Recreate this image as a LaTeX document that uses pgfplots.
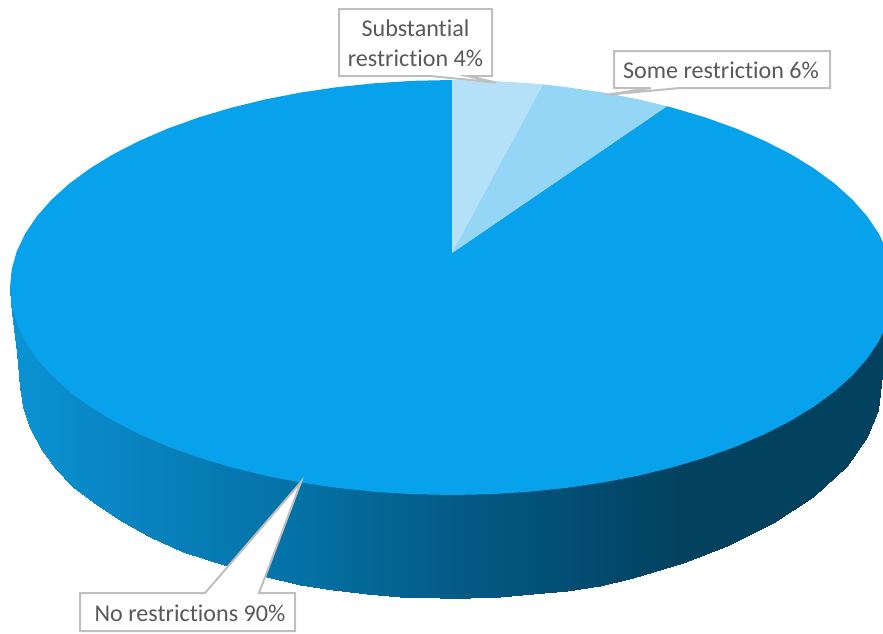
\documentclass[border=0pt]{standalone}
\usepackage{pgfplots}
\pgfplotsset{compat=1.18}
\usepackage{fontspec}
\setmainfont[Ligatures=NoCommon]{Carlito}
\definecolor{mainblue}{RGB}{7,162,235}
\definecolor{lightone}{RGB}{181,225,248}
\definecolor{lighttwo}{RGB}{149,214,247}
\definecolor{boxline}{RGB}{191,191,191}
\definecolor{labeltext}{RGB}{89,89,89}
\tikzset{lab/.style={font=\fontsize{24.1}{30}\selectfont, text=labeltext, align=center, inner sep=0pt}}
\begin{document}
\begin{tikzpicture}
\begin{axis}[
    scale only axis,
    width=883pt,
    height=633pt,
    xmin=0, xmax=883,
    ymin=0, ymax=633,
    y dir=reverse,
    hide axis,
    colormap={wall}{rgb255(0pt)=(11,148,214); rgb255(100pt)=(9,135,197); rgb255(300pt)=(4,113,165); rgb255(440pt)=(4,93,137); rgb255(600pt)=(3,74,110); rgb255(680pt)=(2,66,95); rgb255(880pt)=(2,66,95)},
    point meta min=0, point meta max=880,
    ]

% side wall
\addplot[surf, shader=interp, mesh/rows=2, point meta=x] table[row sep=\\] {
x y\\
10 290\\ 12 290\\ 17 290\\ 20 290\\ 23 290\\ 30 290\\ 42 290\\ 55 290\\ 73 290\\ 97 290\\ 123 290\\ 150 290\\ 183 290\\ 227 290\\ 267 290\\ 300 290\\ 333 290\\ 367 290\\ 400 290\\ 440 290\\ 470 290\\ 500 290\\ 533 290\\ 567 290\\ 600 290\\ 633 290\\ 683 290\\ 727 290\\ 773 290\\ 813 290\\ 847 290\\ 867 290\\ 878 290\\ 883 290\\
10 290\\ 12 313\\ 17 353\\ 20 387\\ 23 407\\ 30 428\\ 42 450\\ 55 468\\ 73 487\\ 97 505\\ 123 522\\ 150 537\\ 183 552\\ 227 566\\ 267 577\\ 300 585\\ 333 590\\ 367 594\\ 400 597\\ 440 598\\ 470 598\\ 500 597\\ 533 594\\ 567 591\\ 600 586\\ 633 578\\ 683 563\\ 727 546\\ 773 523\\ 813 497\\ 847 466\\ 867 437\\ 878 410\\ 883 367\\
};

% top face, no restrictions
\addplot[fill=mainblue, draw=none] coordinates {
(452,253) (667,106.2) (673,107.8) (705.5,117.5) (736.1,128.5) (764.5,140.8) (790.6,154.1) (814.1,168.5) (834.8,183.7) (852.6,199.8) (867.3,216.5) (878.9,233.8) (887.3,251.5) (892.3,269.4)
(894,287.5) (892.3,305.6) (887.3,323.5) (878.9,341.2) (867.3,358.5) (852.6,375.2) (834.8,391.3) (814.1,406.5) (790.6,420.9) (764.5,434.2) (736.1,446.5) (705.5,457.5) (673,467.2) (638.8,475.6) (603.2,482.5) (566.4,487.9) (528.7,491.8) (490.5,494.2)
(452,495) (413.5,494.2) (375.3,491.8) (337.6,487.9) (300.8,482.5) (265.2,475.6) (231,467.2) (198.5,457.5) (167.9,446.5) (139.5,434.2) (113.4,420.9) (89.9,406.5) (69.2,391.3) (51.4,375.2) (36.7,358.5) (25.1,341.2) (16.7,323.5) (11.7,305.6)
(10,287.5) (11.7,269.4) (16.7,251.5) (25.1,233.8) (36.7,216.5) (51.4,199.8) (69.2,183.7) (89.9,168.5) (113.4,154.1) (139.5,140.8) (167.9,128.5) (198.5,117.5) (231,107.8) (265.2,99.4) (300.8,92.5) (337.6,87.1) (375.3,83.2) (413.5,80.8) (452,80)
} -- cycle;

% substantial restriction
\addplot[fill=lightone, draw=none] coordinates {
(452,253) (452,80) (490.5,80.8) (528.7,83.2) (543,84.4)
} -- cycle;

% some restriction
\addplot[fill=lighttwo, draw=none] coordinates {
(452,253) (543,84.4) (566.4,87.1) (603.2,92.5) (638.8,99.4) (667,106.2)
} -- cycle;

% callouts
\addplot[fill=white, draw=boxline, line width=2pt] coordinates {
(339,9) (492,9) (492,76) (467,76) (496,82.5) (430,76) (339,76)
} -- cycle;
\addplot[fill=white, draw=boxline, line width=2pt] coordinates {
(614,51) (830,51) (830,88) (680,88) (605,95) (651,88) (614,88)
} -- cycle;
\addplot[fill=white, draw=boxline, line width=2pt] coordinates {
(80,593) (205,593) (301,482) (259,593) (295,593) (295,631) (80,631)
} -- cycle;

\node[lab] at (axis cs:415.5,43) {Substantial\\restriction 4\%};
\node[lab] at (axis cs:721,70.5) {Some restriction 6\%};
\node[lab] at (axis cs:190,613) {No restrictions 90\%};
\path (axis cs:0,0) rectangle (axis cs:883,633);
\end{axis}
\end{tikzpicture}
\end{document}
